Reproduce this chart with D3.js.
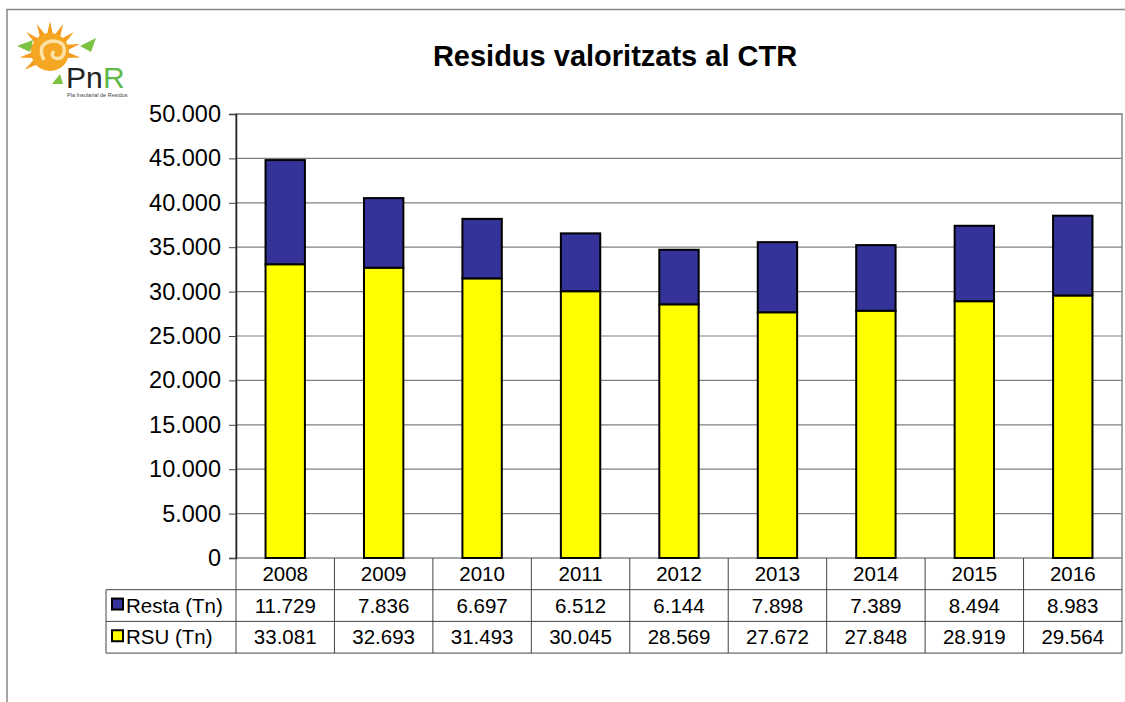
<!DOCTYPE html>
<html>
<head>
<meta charset="utf-8">
<script src="https://cdn.jsdelivr.net/npm/d3@7"></script>
<style>
  body { margin: 0; background: #fff; }
  svg text { font-family: "Liberation Sans", Arial, sans-serif; }
</style>
</head>
<body>
<svg id="chart" width="1125" height="702"></svg>
<script>
// data
var years = ["2008", "2009", "2010", "2011", "2012", "2013", "2014", "2015", "2016"];
var resta = [11729, 7836, 6697, 6512, 6144, 7898, 7389, 8494, 8983];
var rsu = [33081, 32693, 31493, 30045, 28569, 27672, 27848, 28919, 29564];
var seriesNames = ["Resta (Tn)", "RSU (Tn)"];
var seriesColors = ["#333399", "#ffff00"];
var yTicks = [0, 5000, 10000, 15000, 20000, 25000, 30000, 35000, 40000, 45000, 50000];

var svg = d3.select("#chart");
var plotLeft = 236, plotRight = 1122, plotTop = 114, plotBottom = 558;
var rowH = 31.7;
var labelLeft = 106;

function fmt(v) {
  return d3.format(",")(v).replace(/,/g, ".");
}

// outer frame
svg.append("path")
  .attr("d", "M7,710 V9.5 H1130")
  .attr("fill", "none").attr("stroke", "#888").attr("stroke-width", 1.5);

// logo (simplified)
var logo = svg.append("g");
var cx = 50, cy = 52;
d3.range(10).map(function(i) { return -215 + i * 25; }).forEach(function(a) {
  var r = a * Math.PI / 180;
  logo.append("path")
    .attr("d", "M" + (cx + 17 * Math.cos(r - 0.18)) + "," + (cy + 17 * Math.sin(r - 0.18)) +
      "L" + (cx + 31 * Math.cos(r)) + "," + (cy + 31 * Math.sin(r)) +
      "L" + (cx + 17 * Math.cos(r + 0.18)) + "," + (cy + 17 * Math.sin(r + 0.18)) + "Z")
    .attr("fill", "#f39c1e");
});
logo.append("circle").attr("cx", cx).attr("cy", cy).attr("r", 19).attr("fill", "#f5a623");
logo.append("path").attr("d", "M44,60 q-8,-16 8,-19 q14,0 12,12 q-2,7 -9,5 q-5,-2 -1,-7")
  .attr("fill", "none").attr("stroke", "#fde3a7").attr("stroke-width", 3.5);
logo.append("path").attr("d", "M17,46 l16,-6 l-3,12 z").attr("fill", "#7dc242");
logo.append("path").attr("d", "M80,46 l16,-8 l-5,14 z").attr("fill", "#7dc242");
logo.append("path").attr("d", "M52,84 l8,-10 l3,10 z").attr("fill", "#7dc242");
logo.append("text").attr("x", 66).attr("y", 88).attr("font-size", 30)
  .attr("fill", "#222").text("Pn");
logo.append("text").attr("x", 103).attr("y", 88).attr("font-size", 30)
  .attr("fill", "#5fb84a").text("R");
logo.append("text").attr("x", 67).attr("y", 97).attr("font-size", 5.5).attr("fill", "#444")
  .text("Pla Insularial de Residus");

// title
svg.append("text").attr("x", 615).attr("y", 66).attr("text-anchor", "middle")
  .attr("font-size", 29).attr("font-weight", "bold").text("Residus valoritzats al CTR");

var x = d3.scaleBand().domain(years).range([plotLeft, plotRight]).paddingInner(0.6).paddingOuter(0.3);
var xCell = d3.scaleBand().domain(years).range([plotLeft, plotRight]);
var y = d3.scaleLinear().domain([0, 50000]).range([plotBottom, plotTop]);

// gridlines
svg.append("g").selectAll("line").data(yTicks.slice(1)).join("line")
  .attr("x1", plotLeft).attr("x2", plotRight)
  .attr("y1", function(d) { return y(d); }).attr("y2", function(d) { return y(d); })
  .attr("stroke", "#808080").attr("stroke-width", 1.2);

// plot border
svg.append("rect").attr("x", plotLeft).attr("y", plotTop)
  .attr("width", plotRight - plotLeft).attr("height", plotBottom - plotTop)
  .attr("fill", "none").attr("stroke", "#888").attr("stroke-width", 1.5);

// y axis
var yAxis = d3.axisLeft(y).tickValues(yTicks).tickSize(7).tickPadding(8).tickFormat(fmt);
var ga = svg.append("g").attr("transform", "translate(" + plotLeft + ",0)").call(yAxis);
ga.select(".domain").attr("stroke", "#222").attr("stroke-width", 1.5);
ga.selectAll(".tick line").attr("stroke", "#444");
ga.selectAll(".tick text").attr("font-size", 23.5).attr("fill", "#000")
  .attr("font-family", "Liberation Sans, Arial, sans-serif");

// bars
var stack = years.map(function(yr, i) { return { year: yr, rsu: rsu[i], resta: resta[i] }; });
svg.append("g").selectAll("rect").data(stack).join("rect")
  .attr("x", function(d) { return x(d.year); })
  .attr("width", x.bandwidth())
  .attr("y", function(d) { return y(d.rsu); })
  .attr("height", function(d) { return y(0) - y(d.rsu); })
  .attr("fill", seriesColors[1]).attr("stroke", "#000").attr("stroke-width", 2);
svg.append("g").selectAll("rect").data(stack).join("rect")
  .attr("x", function(d) { return x(d.year); })
  .attr("width", x.bandwidth())
  .attr("y", function(d) { return y(d.rsu + d.resta); })
  .attr("height", function(d) { return y(d.rsu) - y(d.rsu + d.resta); })
  .attr("fill", seriesColors[0]).attr("stroke", "#000").attr("stroke-width", 2);

// data table
var tbl = svg.append("g");
var rows = [resta, rsu];
tbl.selectAll("line.v").data(years).join("line").attr("class", "v")
  .attr("x1", function(d) { return xCell(d); }).attr("x2", function(d) { return xCell(d); })
  .attr("y1", plotBottom).attr("y2", plotBottom + 3 * rowH)
  .attr("stroke", "#444").attr("stroke-width", 1);
tbl.append("line").attr("x1", plotRight).attr("x2", plotRight)
  .attr("y1", plotBottom).attr("y2", plotBottom + 3 * rowH)
  .attr("stroke", "#888").attr("stroke-width", 1.5);
tbl.append("line").attr("x1", labelLeft).attr("x2", labelLeft)
  .attr("y1", plotBottom + rowH).attr("y2", plotBottom + 3 * rowH)
  .attr("stroke", "#444");
[1, 2, 3].forEach(function(k) {
  tbl.append("line").attr("x1", labelLeft).attr("x2", plotRight)
    .attr("y1", plotBottom + k * rowH).attr("y2", plotBottom + k * rowH)
    .attr("stroke", "#444");
});
tbl.selectAll("text.yr").data(years).join("text").attr("class", "yr")
  .attr("x", function(d) { return xCell(d) + xCell.bandwidth() / 2; })
  .attr("y", plotBottom + rowH / 2 + 7)
  .attr("text-anchor", "middle").attr("font-size", 20.5).text(function(d) { return d; });
rows.forEach(function(vals, r) {
  var yy = plotBottom + (r + 1) * rowH + rowH / 2 + 7;
  tbl.append("rect").attr("x", labelLeft + 6).attr("y", yy - 14).attr("width", 11).attr("height", 11)
    .attr("fill", seriesColors[r]).attr("stroke", "#000").attr("stroke-width", 2);
  tbl.append("text").attr("x", labelLeft + 20).attr("y", yy).attr("font-size", 20.5).text(seriesNames[r]);
  tbl.selectAll("text.v" + r).data(vals).join("text").attr("class", "v" + r)
    .attr("x", function(d, i) { return xCell(years[i]) + xCell.bandwidth() / 2; })
    .attr("y", yy).attr("text-anchor", "middle").attr("font-size", 20.5)
    .text(function(d) { return fmt(d); });
});
</script>
</body>
</html>
